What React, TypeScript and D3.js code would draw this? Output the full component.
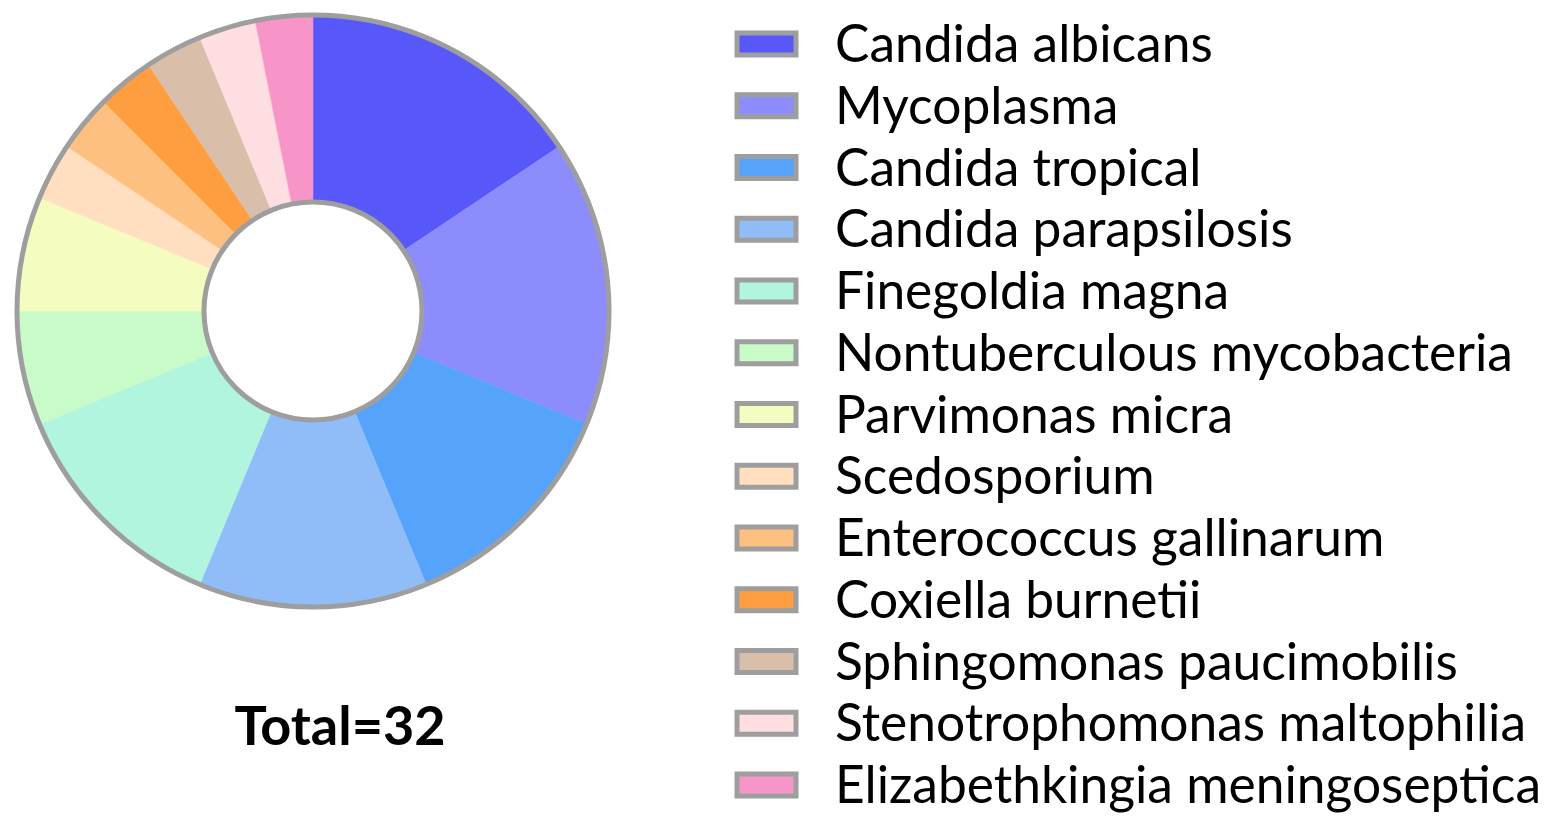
import React from 'react';
import * as d3 from 'd3';

const species = [
  'Candida albicans',
  'Mycoplasma',
  'Candida tropical',
  'Candida parapsilosis',
  'Finegoldia magna',
  'Nontuberculous mycobacteria',
  'Parvimonas micra',
  'Scedosporium',
  'Enterococcus gallinarum',
  'Coxiella burnetii',
  'Sphingomonas paucimobilis',
  'Stenotrophomonas maltophilia',
  'Elizabethkingia meningoseptica',
];
const counts = [5, 5, 4, 4, 4, 2, 2, 1, 1, 1, 1, 1, 1];
const colors = [
  '#5858fa', '#8c8cfc', '#55a3fb', '#90bdf8', '#b2f5de', '#c8fbc8', '#f4fcc0',
  '#ffdfc0', '#fec080', '#fe9e40', '#d9bfaa', '#fedee0', '#f895c8',
];

const FONT = 'Lato, "Open Sans", sans-serif';

export default function App() {
  const width = 1551;
  const height = 823;
  const cx = 313, cy = 311;
  const outerR = 296, innerR = 109;

  const data = species.map((name, i) => ({ name, value: counts[i], color: colors[i] }));
  const pie = d3.pie<any>().sort(null).value(d => d.value);
  const arc = d3.arc<any>().innerRadius(innerR).outerRadius(outerR);
  const arcs = pie(data);
  const total = d3.sum(counts);

  const rowY = d3.scaleLinear().domain([0, species.length - 1]).range([44, 785]);

  return (
    <svg width={width} height={height} style={{ position: 'absolute', left: 0, top: 0, background: '#fff' }}>
      <g transform={`translate(${cx},${cy})`}>
        {arcs.map((a, i) => (
          <path key={i} d={arc(a) || ''} fill={a.data.color} stroke={a.data.color} strokeWidth={0.5} />
        ))}
        <circle r={outerR} fill="none" stroke="#9e9e9e" strokeWidth={5} />
        <circle r={innerR} fill="none" stroke="#9e9e9e" strokeWidth={5} />
      </g>
      <text x={340} y={745} textAnchor="middle" fontFamily={FONT} fontWeight="bold" fontSize={54} fill="#000">
        {`Total=${total}`}
      </text>
      {data.map((d, i) => (
        <g key={d.name} transform={`translate(0,${rowY(i)})`}>
          <rect x={737} y={-11} width={59} height={22} fill={d.color} stroke="#9e9e9e" strokeWidth={5} />
          <text x={835} y={18} fontFamily={FONT} fontSize={51.5} fill="#000">{d.name}</text>
        </g>
      ))}
    </svg>
  );
}
